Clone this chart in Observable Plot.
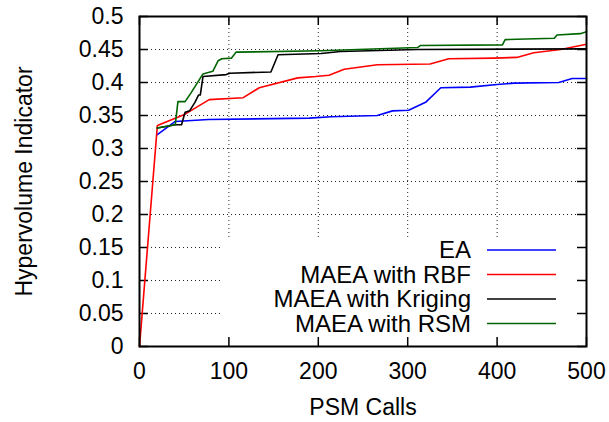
<!DOCTYPE html>
<html>
<head>
<meta charset="utf-8">
<script src="https://cdn.jsdelivr.net/npm/d3@7"></script>
<script src="https://cdn.jsdelivr.net/npm/@observablehq/plot@0.6"></script>
<style>
  html, body { margin: 0; padding: 0; background: #fff; }
  #chart { position: relative; width: 609px; height: 422px; }
  svg { font-family: "Liberation Sans", Arial, sans-serif; }
</style>
</head>
<body>
<div id="chart"></div>
<script>
const seriesNames = ["EA", "MAEA with RBF", "MAEA with Kriging", "MAEA with RSM"];
const seriesColors = ["#0000ff", "#ff0000", "#000000", "#006400"];

const eaX = [20, 40, 77, 190, 214, 266, 283, 301, 320, 337, 370, 400, 419, 469, 484, 500];
const eaY = [0.321, 0.341, 0.344, 0.346, 0.348, 0.350, 0.357, 0.358, 0.370, 0.392, 0.393, 0.397, 0.399, 0.400, 0.406, 0.406];

const rbfX = [0, 20, 51, 78, 116, 134, 177, 197, 212, 229, 266, 325, 346, 396, 422, 441, 471, 500];
const rbfY = [0, 0.335, 0.352, 0.374, 0.377, 0.392, 0.407, 0.409, 0.411, 0.420, 0.427, 0.428, 0.436, 0.437, 0.438, 0.445, 0.450, 0.458];

const krigX = [20, 40, 47, 51, 56, 62, 66, 68, 71, 97, 101, 147, 155, 203, 225, 311, 500];
const krigY = [0.331, 0.336, 0.336, 0.355, 0.357, 0.370, 0.381, 0.381, 0.409, 0.412, 0.414, 0.416, 0.442, 0.444, 0.447, 0.450, 0.451];

const rsmX = [20, 40, 43, 51, 58, 71, 82, 88, 92, 103, 108, 203, 311, 314, 406, 409, 464, 467, 493, 500];
const rsmY = [0.331, 0.336, 0.371, 0.371, 0.385, 0.413, 0.417, 0.433, 0.436, 0.437, 0.446, 0.448, 0.453, 0.456, 0.457, 0.465, 0.467, 0.472, 0.474, 0.477];

const xTicks = [0, 100, 200, 300, 400, 500];
const yTicks = [0, 0.05, 0.1, 0.15, 0.2, 0.25, 0.3, 0.35, 0.4, 0.45, 0.5];
const xGrid = [100, 200, 300, 400];
const yGridLow = [0.05, 0.1, 0.15];
const yGridHigh = [0.2, 0.25, 0.3, 0.35, 0.4, 0.45];

const xLabel = "PSM Calls";
const yLabel = "Hypervolume Indicator";

const toRows = (xs, ys, s) => xs.map((x, i) => ({x, y: ys[i], s}));
const allX = [eaX, rbfX, krigX, rsmX];
const allY = [eaY, rbfY, krigY, rsmY];
const rows = seriesNames.map((s, k) => toRows(allX[k], allY[k], s));

const W = 609, H = 422;
const mL = 139, mR = 23, mT = 16, mB = 76;
const pw = W - mL - mR, ph = H - mT - mB;
const tick = 9;
const fs = 23;
const gridStyle = {stroke: "#000", strokeWidth: 1, strokeDasharray: "1,3", strokeOpacity: 0.85};

const chart = Plot.plot({
  width: W, height: H,
  marginLeft: mL, marginRight: mR, marginTop: mT, marginBottom: mB,
  style: {fontFamily: '"Liberation Sans", Arial, sans-serif', fontSize: fs + "px", background: "#fff", overflow: "visible"},
  x: {domain: [0, 500]},
  y: {domain: [0, 0.5]},
  color: {domain: seriesNames, range: seriesColors},
  marks: [
    // grid
    Plot.ruleX(xGrid, {x: d => d, ...gridStyle, insetBottom: 108}),
    Plot.ruleY(yGridHigh, {y: d => d, ...gridStyle}),
    Plot.ruleY(yGridLow, {y: d => d, ...gridStyle, insetRight: 586 - 223}),
    // axes labels
    Plot.axisX(xTicks, {anchor: "bottom", tickSize: 0, tickPadding: 16, fontSize: fs, label: null, tickFormat: d => String(d)}),
    Plot.axisY(yTicks, {anchor: "left", tickSize: 0, tickPadding: 16, fontSize: fs, label: null, tickFormat: d => String(+d.toFixed(2))}),
    // inward ticks
    Plot.ruleX(xTicks, {x: d => d, stroke: "#000", strokeWidth: 1.5, insetTop: ph - tick}),
    Plot.ruleX(xTicks, {x: d => d, stroke: "#000", strokeWidth: 1.5, insetBottom: ph - tick}),
    Plot.ruleY(yTicks, {y: d => d, stroke: "#000", strokeWidth: 1.5, insetRight: pw - tick}),
    Plot.ruleY(yTicks, {y: d => d, stroke: "#000", strokeWidth: 1.5, insetLeft: pw - tick}),
    // data
    ...rows.map(r => Plot.line(r, {x: "x", y: "y", stroke: "s", strokeWidth: 1.6, strokeLinejoin: "round"})),
    Plot.frame({stroke: "#000", strokeWidth: 2}),
    // axis titles
    Plot.text([xLabel], {frameAnchor: "bottom", dy: 61, lineAnchor: "middle", textAnchor: "middle", fontSize: fs, fill: "#000"}),
    Plot.text([yLabel], {frameAnchor: "left", dx: -115, rotate: -90, lineAnchor: "middle", textAnchor: "middle", fontSize: fs, fill: "#000"})
  ]
});

// legend (inside plot, bottom-right)
const svg = d3.select(chart);
const lg = svg.append("g").attr("font-size", 24).attr("font-family", '"Liberation Sans", Arial, sans-serif');
const textRight = 471, lineX1 = 487, lineX2 = 556, row0 = 250, rowStep = 24.5;
seriesNames.forEach((name, i) => {
  const yy = row0 + i * rowStep;
  lg.append("text").attr("x", textRight).attr("y", yy).attr("dy", "0.35em")
    .attr("text-anchor", "end").attr("fill", "#000").text(name);
  lg.append("line").attr("x1", lineX1).attr("x2", lineX2).attr("y1", yy).attr("y2", yy)
    .attr("stroke", seriesColors[i]).attr("stroke-width", 1.6);
});

document.getElementById("chart").appendChild(chart);
</script>
</body>
</html>
